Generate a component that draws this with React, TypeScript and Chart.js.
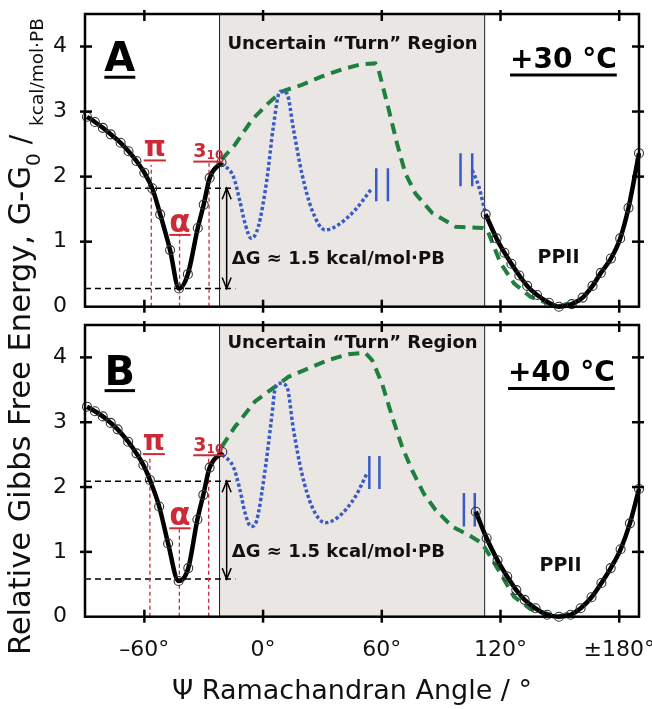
import React, { useEffect, useRef } from "react";
import { Chart, registerables } from "chart.js";

Chart.register(...registerables);

const FONT = "'DejaVu Sans', sans-serif";

// ---------------- data ----------------
const xTickValues = [-60, 0, 60, 120, 180];
const xTickTexts = ["–60°", "0°", "60°", "120°", "±180°"];
const turnRegion = [-22, 112];

// Panel A (+30 °C)
const helixXA = [-89, -85, -81, -77, -72, -68, -64, -60, -56, -52, -47, -42.5, -38, -33, -30, -27, -21];
const helixYA = [2.92, 2.84, 2.75, 2.65, 2.52, 2.39, 2.24, 2.06, 1.82, 1.42, 0.87, 0.28, 0.5, 1.21, 1.57, 1.98, 2.22];
const ppiiXA = [112.5, 118, 122, 125.5, 129.5, 133.5, 138.5, 144.5, 149.5, 156, 161.5, 166.5, 170.7, 175.8, 180.5, 184.7, 190];
const ppiiYA = [1.42, 1.05, 0.83, 0.66, 0.48, 0.32, 0.18, 0.06, 0.0, 0.04, 0.14, 0.32, 0.52, 0.74, 1.05, 1.52, 2.36];
const blue1XA = [-21, -15, -11.7, -9.1, -6, -2.4, 1.9, 5.2, 8.6, 12, 15.4, 19.6, 24.7, 31.4, 38.1, 46.6, 55];
const blue1YA = [2.2, 2.0, 1.62, 1.28, 1.05, 1.23, 1.95, 2.77, 3.31, 3.28, 2.72, 2.05, 1.49, 1.18, 1.26, 1.49, 1.82];
const blue2XA = [105.7, 109, 112.5];
const blue2YA = [2.1, 1.85, 1.42];
const greenXA = [-21, -14.2, -5.7, 2.7, 9.5, 19.6, 29.7, 39.9, 50, 56.7, 58.4, 63.5, 67.7, 71.9, 77, 85.5, 97.3, 110.8, 113.3, 120, 126.8, 135.3, 148.8, 160.6];
const greenYA = [2.26, 2.49, 2.87, 3.13, 3.31, 3.41, 3.54, 3.65, 3.73, 3.74, 3.64, 3.03, 2.51, 2.05, 1.74, 1.44, 1.23, 1.21, 1.18, 0.67, 0.36, 0.15, 0.0, 0.1];
const levelsA = [1.82, 0.28];
const redXA = [-56.5, -42.2, -27.3];
const redTopA = [2.18, 1.1, 2.21];
const barsXA = [57.2, 63.1, 99.8, 105.7];
const barsLowA = [1.62, 1.62, 1.85, 1.85];
const barsHighA = [2.13, 2.13, 2.36, 2.36];

// Panel B (+40 °C)
const helixXB = [-89, -85, -81, -77, -73.5, -68.2, -64, -60.5, -57.2, -52.5, -48, -42.7, -37.8, -33.2, -30.2, -27, -20.6];
const helixYB = [3.24, 3.17, 3.09, 2.99, 2.89, 2.7, 2.52, 2.34, 2.11, 1.7, 1.13, 0.55, 0.75, 1.5, 1.88, 2.3, 2.54];
const ppiiXB = [107.5, 113, 118.5, 123.4, 128, 132.2, 137.7, 143.6, 149.5, 155.4, 160.5, 166, 171, 175.7, 180.7, 185.4, 190];
const ppiiYB = [1.62, 1.21, 0.87, 0.62, 0.41, 0.26, 0.13, 0.03, 0.0, 0.03, 0.13, 0.3, 0.52, 0.75, 1.04, 1.44, 1.97];
const blue1XB = [-20.6, -15, -11.7, -9.1, -6, -3.2, 1, 4.4, 6.1, 8.6, 12, 15.4, 19.6, 24.7, 31.4, 38.1, 46.6, 52.5];
const blue1YB = [2.5, 2.31, 1.96, 1.6, 1.39, 1.49, 2.26, 3.09, 3.52, 3.6, 3.55, 2.88, 2.21, 1.7, 1.45, 1.54, 1.85, 2.21];
const greenXB = [-20.9, -14.2, -4.1, 6.1, 12.8, 22.9, 33.1, 43.2, 51.7, 55.1, 60.1, 65.2, 70.3, 75.3, 81.2, 87.1, 95.6, 104, 110.8, 120, 126.8, 135, 149, 160];
const greenYB = [2.62, 2.93, 3.32, 3.55, 3.7, 3.83, 3.96, 4.05, 4.07, 3.96, 3.6, 3.09, 2.62, 2.26, 1.9, 1.65, 1.39, 1.26, 1.13, 0.67, 0.31, 0.12, 0.0, 0.1];
const levelsB = [2.09, 0.58];
const redXB = [-57.2, -42.3, -27.5];
const redTopB = [2.44, 1.35, 2.47];
const barsXB = [53.7, 58.8, 101.5, 107];
const barsLowB = [1.97, 1.97, 1.39, 1.39];
const barsHighB = [2.48, 2.48, 1.91, 1.91];

const levelLineEnd = -14;
const arrowX = -18.4;

// ---------------- helpers ----------------
type P = { x: number; y: number };
const pts = (xs: number[], ys: number[]): P[] => xs.map((x, i) => ({ x, y: ys[i] }));

interface Panel {
  letter: string;
  temp: string;
  helix: P[];
  ppii: P[];
  blues: P[][];
  green: P[];
  levels: number[];
  redX: number[];
  redTop: number[];
  barsX: number[];
  barsLow: number[];
  barsHigh: number[];
  lab: Record<string, P>;
  padTop: number;
  xAxisH: number;
  showX: boolean;
  titles: boolean;
}

const panels: Panel[] = [
  {
    letter: "A",
    temp: "+30 °C",
    helix: pts(helixXA, helixYA),
    ppii: pts(ppiiXA, ppiiYA),
    blues: [pts(blue1XA, blue1YA), pts(blue2XA, blue2YA)],
    green: pts(greenXA, greenYA),
    levels: levelsA,
    redX: redXA,
    redTop: redTopA,
    barsX: barsXA,
    barsLow: barsLowA,
    barsHigh: barsHighA,
    lab: {
      letter: { x: -72.4, y: 3.62 },
      temp: { x: 151.8, y: 3.67 },
      region: { x: 45.2, y: 4.03 },
      dG: { x: -15.8, y: 0.73 },
      ppii: { x: 149.3, y: 0.75 },
      pi: { x: -54.7, y: 2.31 },
      alpha: { x: -42, y: 1.15 },
      three: { x: -27.7, y: 2.3 },
    },
    padTop: 14,
    xAxisH: 709 - 306.7,
    showX: false,
    titles: false,
  },
  {
    letter: "B",
    temp: "+40 °C",
    helix: pts(helixXB, helixYB),
    ppii: pts(ppiiXB, ppiiYB),
    blues: [pts(blue1XB, blue1YB)],
    green: pts(greenXB, greenYB),
    levels: levelsB,
    redX: redXB,
    redTop: redTopB,
    barsX: barsXB,
    barsLow: barsLowB,
    barsHigh: barsHighB,
    lab: {
      letter: { x: -72.4, y: 3.58 },
      temp: { x: 150.8, y: 3.63 },
      region: { x: 45.2, y: 4.22 },
      dG: { x: -15.8, y: 1.0 },
      ppii: { x: 150.3, y: 0.78 },
      pi: { x: -55.2, y: 2.57 },
      alpha: { x: -42, y: 1.41 },
      three: { x: -27.7, y: 2.56 },
    },
    padTop: 325,
    xAxisH: 709 - 616.7,
    showX: true,
    titles: true,
  },
];

const RED = "#cc2a36";
const BLUE = "#3a5bc6";
const GREEN = "#1e7f3e";

function line(ctx: CanvasRenderingContext2D, x1: number, y1: number, x2: number, y2: number) {
  ctx.beginPath();
  ctx.moveTo(x1, y1);
  ctx.lineTo(x2, y2);
  ctx.stroke();
}

function underlined(
  ctx: CanvasRenderingContext2D,
  text: string,
  cx: number,
  base: number,
  font: string,
  color: string,
  uOff: number,
  uW: number
) {
  ctx.font = font;
  ctx.fillStyle = color;
  ctx.strokeStyle = color;
  ctx.textAlign = "center";
  ctx.textBaseline = "alphabetic";
  ctx.fillText(text, cx, base);
  const w = ctx.measureText(text).width;
  ctx.lineWidth = uW;
  line(ctx, cx - w / 2, base + uOff, cx + w / 2, base + uOff);
}

function makeDecor(panel: Panel) {
  return {
    id: "decor" + panel.letter,
    beforeDatasetsDraw(chart: any) {
      const { ctx, chartArea: ca } = chart;
      const xs = chart.scales.x;
      const x0 = xs.getPixelForValue(turnRegion[0]);
      const x1 = xs.getPixelForValue(turnRegion[1]);
      ctx.save();
      ctx.fillStyle = "#e9e6e3";
      ctx.fillRect(x0, ca.top, x1 - x0, ca.bottom - ca.top);
      ctx.strokeStyle = "#222";
      ctx.lineWidth = 1;
      line(ctx, x0, ca.top, x0, ca.bottom);
      line(ctx, x1, ca.top, x1, ca.bottom);
      ctx.restore();
    },
    afterDatasetsDraw(chart: any) {
      const { ctx, chartArea: ca } = chart;
      const xs = chart.scales.x;
      const ys = chart.scales.y;
      const X = (v: number) => xs.getPixelForValue(v);
      const Y = (v: number) => ys.getPixelForValue(v);
      ctx.save();
      ctx.strokeStyle = "#000";
      ctx.lineCap = "butt";
      // frame
      ctx.lineWidth = 2.5;
      ctx.strokeRect(ca.left, ca.top, ca.right - ca.left, ca.bottom - ca.top);
      // x ticks
      xs.ticks.forEach((t: any) => {
        const v = t.value;
        if (v <= xs.min || v >= xs.max) return;
        const px = X(v);
        const major = Math.abs(v % 30) < 1e-6;
        ctx.lineWidth = major ? 2.5 : 1.3;
        line(ctx, px, ca.bottom + (major ? 6 : 0), px, ca.bottom - (major ? 7 : 5));
        if (major) line(ctx, px, ca.top - 4, px, ca.top + 7);
      });
      // y ticks
      ys.ticks.forEach((t: any) => {
        const v = t.value;
        if (v <= ys.min || v >= ys.max) return;
        const py = Y(v);
        const major = Number.isInteger(v);
        ctx.lineWidth = major ? 2.5 : 1.3;
        line(ctx, ca.left - (major ? 5 : 0), py, ca.left + 7, py);
        line(ctx, ca.right - 7, py, ca.right + (major ? 5 : 0), py);
      });

      // arrow
      const ax = X(arrowX);
      const a1 = Y(panel.levels[0]);
      const a2 = Y(panel.levels[1]);
      ctx.lineWidth = 1.5;
      ctx.strokeStyle = "#000";
      line(ctx, ax, a1, ax, a2);
      ctx.beginPath();
      ctx.moveTo(ax - 4.5, a1 + 11);
      ctx.lineTo(ax, a1);
      ctx.lineTo(ax + 4.5, a1 + 11);
      ctx.moveTo(ax - 4.5, a2 - 11);
      ctx.lineTo(ax, a2);
      ctx.lineTo(ax + 4.5, a2 - 11);
      ctx.stroke();

      const L = panel.lab;
      // panel letter & temperature
      underlined(ctx, panel.letter, X(L.letter.x), Y(L.letter.y), `bold 40px ${FONT}`, "#000", 6, 3);
      underlined(ctx, panel.temp, X(L.temp.x), Y(L.temp.y), `bold 28px ${FONT}`, "#000", 7, 3);

      // region title
      ctx.fillStyle = "#111";
      ctx.textAlign = "center";
      ctx.textBaseline = "middle";
      ctx.font = `bold 18px ${FONT}`;
      ctx.fillText("Uncertain “Turn” Region", X(L.region.x), Y(L.region.y));
      ctx.font = `bold 19px ${FONT}`;
      ctx.fillText("PPII", X(L.ppii.x), Y(L.ppii.y));
      ctx.textAlign = "left";
      ctx.font = `bold 18px ${FONT}`;
      ctx.fillText("ΔG ≈ 1.5 kcal/mol·PB", X(L.dG.x), Y(L.dG.y));

      // red labels
      underlined(ctx, "π", X(L.pi.x), Y(L.pi.y), `bold 28px ${FONT}`, RED, 4, 2);
      underlined(ctx, "α", X(L.alpha.x), Y(L.alpha.y), `bold 31px ${FONT}`, RED, 3, 2);
      // 3_10
      ctx.fillStyle = RED;
      ctx.strokeStyle = RED;
      ctx.textAlign = "left";
      ctx.textBaseline = "alphabetic";
      ctx.font = `bold 19px ${FONT}`;
      const w3 = ctx.measureText("3").width;
      ctx.font = `bold 12px ${FONT}`;
      const w10 = ctx.measureText("10").width;
      const tx = X(L.three.x) - (w3 + w10) / 2;
      const tb = Y(L.three.y);
      ctx.font = `bold 19px ${FONT}`;
      ctx.fillText("3", tx, tb);
      ctx.font = `bold 12px ${FONT}`;
      ctx.fillText("10", tx + w3, tb + 2);
      ctx.lineWidth = 2;
      line(ctx, tx, tb + 4.5, tx + w3 + w10, tb + 4.5);

      if (panel.titles) {
        // x title
        ctx.fillStyle = "#111";
        ctx.textAlign = "center";
        ctx.textBaseline = "middle";
        ctx.font = `27px ${FONT}`;
        ctx.fillText("Ψ Ramachandran Angle / °", 352, 692);
        // y title (rotated)
        ctx.save();
        ctx.translate(30, 655);
        ctx.rotate(-Math.PI / 2);
        ctx.textAlign = "left";
        ctx.textBaseline = "alphabetic";
        const parts = [
          { t: "Relative Gibbs Free Energy, G-G", s: 30.5, dy: 0 },
          { t: "0", s: 20, dy: 10 },
          { t: " / ", s: 28, dy: 0 },
          { t: "kcal/mol·PB", s: 18.5, dy: 13 },
        ];
        let cx = 0;
        for (const p of parts) {
          ctx.font = `${p.s}px ${FONT}`;
          ctx.fillText(p.t, cx, p.dy);
          cx += ctx.measureText(p.t).width;
        }
        ctx.restore();
      }
      ctx.restore();
    },
  };
}

function makeConfig(panel: Panel): any {
  const base = { pointRadius: 0, fill: false, tension: 0 };
  const datasets: any[] = [];
  [panel.helix, panel.ppii].forEach((d) =>
    datasets.push({
      data: d,
      borderColor: "#000",
      borderWidth: 4.5,
      cubicInterpolationMode: "monotone",
      pointRadius: 4.5,
      pointBorderWidth: 1.1,
      pointBorderColor: "#333",
      pointBackgroundColor: "rgba(0,0,0,0)",
      fill: false,
      clip: 8,
    })
  );
  panel.blues.forEach((d) =>
    datasets.push({
      ...base,
      data: d,
      borderColor: BLUE,
      borderWidth: 3.5,
      borderDash: [3.3, 2.4],
      cubicInterpolationMode: "monotone",
    })
  );
  panel.barsX.forEach((bx, i) =>
    datasets.push({
      ...base,
      data: [
        { x: bx, y: panel.barsLow[i] },
        { x: bx, y: panel.barsHigh[i] },
      ],
      borderColor: BLUE,
      borderWidth: 2.5,
    })
  );
  datasets.push({
    ...base,
    data: panel.green,
    borderColor: GREEN,
    borderWidth: 4,
    borderDash: [11, 7],
  });
  panel.redX.forEach((rx, i) =>
    datasets.push({
      ...base,
      data: [
        { x: rx, y: 0 },
        { x: rx, y: panel.redTop[i] },
      ],
      borderColor: RED,
      borderWidth: 1.3,
      borderDash: [4, 3],
    })
  );
  panel.levels.forEach((lv) =>
    datasets.push({
      ...base,
      data: [
        { x: -90, y: lv },
        { x: levelLineEnd, y: lv },
      ],
      borderColor: "#000",
      borderWidth: 1.5,
      borderDash: [6, 4],
    })
  );

  return {
    type: "line",
    data: { datasets },
    options: {
      responsive: false,
      animation: false,
      events: [],
      layout: { padding: { top: panel.padTop, right: 13, left: 0, bottom: 0 } },
      plugins: { legend: { display: false }, tooltip: { enabled: false }, title: { display: false } },
      scales: {
        x: {
          type: "linear",
          min: -90,
          max: 190,
          afterFit: (s: any) => {
            s.height = panel.xAxisH;
            s.paddingLeft = 0;
            s.paddingRight = 0;
          },
          grid: { display: false, drawTicks: false },
          border: { display: false },
          ticks: {
            display: panel.showX,
            stepSize: 10,
            autoSkip: false,
            maxRotation: 0,
            minRotation: 0,
            padding: 20,
            color: "#111",
            font: { family: FONT, size: 22 },
            callback: (v: any) => {
              const i = xTickValues.indexOf(Number(v));
              return i >= 0 ? xTickTexts[i] : null;
            },
          },
        },
        y: {
          type: "linear",
          min: 0,
          max: 4.5,
          afterFit: (s: any) => {
            s.width = 85;
            s.paddingTop = 0;
            s.paddingBottom = 0;
          },
          grid: { display: false, drawTicks: false },
          border: { display: false },
          ticks: {
            stepSize: 0.5,
            autoSkip: false,
            padding: 18,
            color: "#111",
            font: { family: FONT, size: 22 },
            callback: (v: any) => (Number.isInteger(Number(v)) ? String(v) : null),
          },
        },
      },
    },
    plugins: [makeDecor(panel)],
  };
}

export default function App() {
  const refB = useRef<HTMLCanvasElement>(null);
  const refA = useRef<HTMLCanvasElement>(null);
  useEffect(() => {
    Chart.defaults.font.family = FONT;
    const cb = new Chart(refB.current as HTMLCanvasElement, makeConfig(panels[1]));
    const ca = new Chart(refA.current as HTMLCanvasElement, makeConfig(panels[0]));
    return () => {
      ca.destroy();
      cb.destroy();
    };
  }, []);
  const cs: React.CSSProperties = { position: "absolute", left: 0, top: 0, width: 652, height: 709 };
  return (
    <div style={{ position: "absolute", left: 0, top: 0, width: 652, height: 709, background: "#fff" }}>
      <canvas ref={refB} width={652} height={709} style={cs} />
      <canvas ref={refA} width={652} height={709} style={cs} />
    </div>
  );
}
